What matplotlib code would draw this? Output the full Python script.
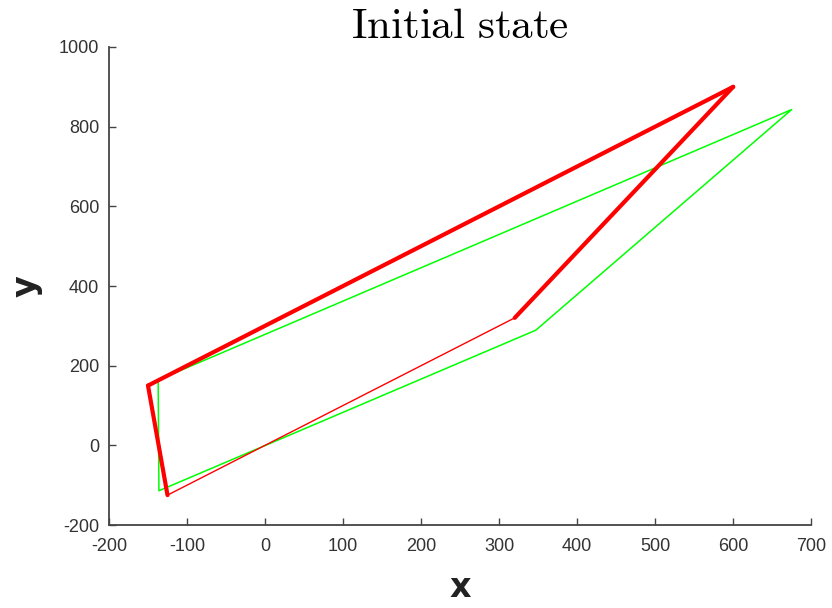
import matplotlib
matplotlib.use("Agg")
import matplotlib.pyplot as plt

# polygon vertices (closed loop order)
red_x = [-150, 600, 320, -125]
red_y = [150, 900, 320, -125]
# which edges are drawn heavy: 0->1, 1->2, 2->3, 3->0
red_heavy = [True, True, False, True]

green_x = [-137, 675, 347, -136]
green_y = [164, 843, 289, -114]

x_ticks = [-200, -100, 0, 100, 200, 300, 400, 500, 600, 700]
y_ticks = [-200, 0, 200, 400, 600, 800, 1000]

plt.rcParams["mathtext.fontset"] = "cm"
plt.rcParams["axes.unicode_minus"] = False
plt.rcParams["font.family"] = ["Liberation Sans Narrow", "Liberation Sans", "DejaVu Sans"]

fig = plt.figure(figsize=(8.32, 6.08), dpi=100)
ax = fig.add_axes([0.131, 0.1365, 0.844, 0.7862])

# green shape, closed
ax.plot(green_x + green_x[:1], green_y + green_y[:1], color="#00ff00", lw=1.1)

# red shape, edge by edge
n = len(red_x)
for i in range(n):
    j = (i + 1) % n
    ax.plot([red_x[i], red_x[j]], [red_y[i], red_y[j]], color="#ff0000",
            lw=3.0 if red_heavy[i] else 1.0, solid_capstyle="round")

ax.set_xlim(-200, 700)
ax.set_ylim(-200, 1000)
ax.set_xticks(x_ticks)
ax.set_yticks(y_ticks)

for side in ["top", "right"]:
    ax.spines[side].set_visible(False)
for side in ["left", "bottom"]:
    ax.spines[side].set_color("#444444")
    ax.spines[side].set_linewidth(1.3)

ax.tick_params(direction="in", length=5, width=1, colors="#444444",
               labelsize=13, labelcolor="#333333")
ax.tick_params(axis="x", pad=9)
ax.tick_params(axis="y", pad=7)

ax.set_xlabel("x", fontsize=24, fontweight="bold", color="#222222",
              family="DejaVu Sans", labelpad=12)
ax.set_ylabel("y", fontsize=24, fontweight="bold", color="#222222",
              family="DejaVu Sans", labelpad=12)
ax.set_title(r"$\mathrm{Initial\ state}$", fontsize=31, pad=4)

fig.savefig("out.png", dpi=100)
